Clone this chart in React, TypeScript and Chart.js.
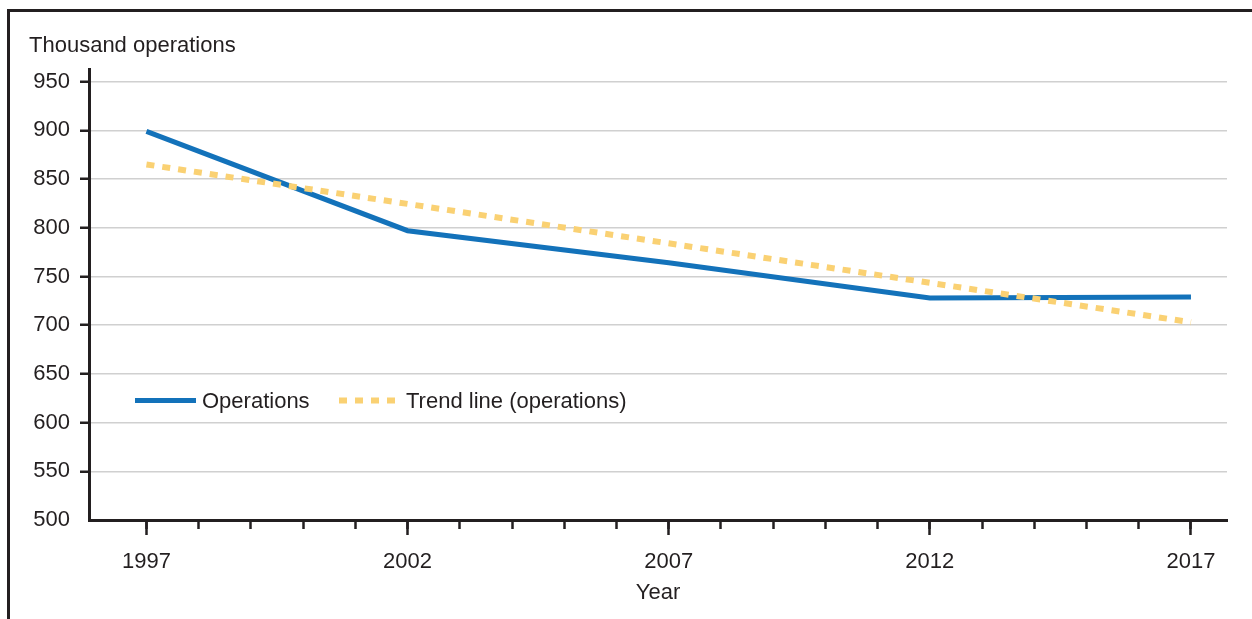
import React, { useEffect, useRef } from 'react';
import { Chart, registerables } from 'chart.js';

Chart.register(...registerables);

// ---- Data ----
const opYears = [1997, 2002, 2007, 2012, 2017];
const operations = [899, 797, 764, 728, 729];
const trendYears = [1997, 2017];
const trendValues = [865, 703];
const yTickValues = [500, 550, 600, 650, 700, 750, 800, 850, 900, 950];
const majorYears = [1997, 2002, 2007, 2012, 2017];
const minorYears = [1997, 1998, 1999, 2000, 2001, 2002, 2003, 2004, 2005, 2006, 2007, 2008, 2009, 2010, 2011, 2012, 2013, 2014, 2015, 2016, 2017];
const seriesLabels = ['Operations', 'Trend line (operations)'];
const yAxisTitle = 'Thousand operations';
const xAxisTitle = 'Year';

const TEXT = '#231f20';
const BLUE = '#1372ba';
const YELLOW = '#fad173';
const GRID = '#d0d0d0';
const FONT = '"Liberation Sans", Arial, sans-serif';
const FS = 22;

const CANVAS_W = 1242;
const CANVAS_H = 607;
const LEGEND_ITEM_OFFSETS = [46, 250];

const overlayPlugin = {
  id: 'overlay',
  afterDraw(chart: any) {
    const ctx = chart.ctx;
    const ca = chart.chartArea;
    ctx.save();
    ctx.font = `${FS}px ${FONT}`;
    ctx.fillStyle = TEXT;
    ctx.textAlign = 'left';
    ctx.textBaseline = 'alphabetic';
    ctx.fillText(yAxisTitle, 19, 40);

    // legend inside plot area
    const ly = ca.top + 331.5;
    chart.data.datasets.forEach((ds: any, i: number) => {
      const x = ca.left + LEGEND_ITEM_OFFSETS[i];
      ctx.beginPath();
      ctx.setLineDash(ds.borderDash || []);
      ctx.lineWidth = ds.borderWidth;
      ctx.strokeStyle = ds.borderColor;
      ctx.lineCap = 'butt';
      ctx.moveTo(x, ly);
      ctx.lineTo(x + 61, ly);
      ctx.stroke();
      ctx.setLineDash([]);
      ctx.textBaseline = 'middle';
      ctx.fillStyle = TEXT;
      ctx.fillText(ds.label, x + 67, ly + 1);
    });
    ctx.restore();
  },
};

export default function App() {
  const ref = useRef<HTMLCanvasElement>(null);

  useEffect(() => {
    if (!ref.current) return;
    Chart.defaults.font.family = FONT;
    Chart.defaults.font.size = FS;
    Chart.defaults.color = TEXT;

    const chart = new Chart(ref.current, {
      type: 'line',
      data: {
        datasets: [
          {
            label: seriesLabels[0],
            data: opYears.map((x, i) => ({ x, y: operations[i] })),
            borderColor: BLUE,
            backgroundColor: BLUE,
            borderWidth: 5,
            pointRadius: 0,
            tension: 0,
            order: 1,
          },
          {
            label: seriesLabels[1],
            data: trendYears.map((x, i) => ({ x, y: trendValues[i] })),
            borderColor: YELLOW,
            backgroundColor: YELLOW,
            borderWidth: 6,
            borderDash: [8, 8],
            pointRadius: 0,
            tension: 0,
            order: 0,
          },
        ],
      },
      options: {
        responsive: false,
        animation: false,
        layout: { padding: { left: 0, right: 25, top: 57, bottom: 0 } },
        plugins: {
          legend: { display: false },
          tooltip: { enabled: false },
          title: { display: false },
        },
        scales: {
          xMinor: {
            type: 'linear',
            position: 'bottom',
            weight: 0,
            min: 1995.9,
            max: 2017.69,
            afterBuildTicks: (s: any) => {
              s.ticks = minorYears.map((v) => ({ value: v }));
            },
            afterFit: (s: any) => {
              s.height = 0;
            },
            ticks: { display: false },
            grid: {
              drawOnChartArea: false,
              drawTicks: true,
              tickLength: 9,
              tickColor: TEXT,
              tickWidth: 2.5,
            },
            border: { display: false },
          },
          x: {
            type: 'linear',
            position: 'bottom',
            weight: 1,
            min: 1995.9,
            max: 2017.69,
            afterBuildTicks: (s: any) => {
              s.ticks = majorYears.map((v) => ({ value: v }));
            },
            afterFit: (s: any) => {
              s.height = 99;
            },
            ticks: {
              padding: 14,
              maxRotation: 0,
              autoSkip: false,
              color: TEXT,
              font: { size: FS, family: FONT },
              callback: (v: any) => String(v),
            },
            grid: {
              drawOnChartArea: false,
              drawTicks: true,
              tickLength: 15,
              tickColor: TEXT,
              tickWidth: 2.5,
            },
            border: { display: true, color: TEXT, width: 3 },
            title: {
              display: true,
              text: xAxisTitle,
              color: TEXT,
              font: { size: FS, family: FONT },
              padding: { top: 0, bottom: 13 },
            },
          },
          y: {
            type: 'linear',
            min: 500,
            max: 963,
            afterBuildTicks: (s: any) => {
              s.ticks = yTickValues.map((v) => ({ value: v }));
            },
            afterFit: (s: any) => {
              s.width = 79;
            },
            ticks: {
              padding: 10,
              color: TEXT,
              font: { size: FS, family: FONT },
              callback: (v: any) => String(v),
            },
            grid: {
              drawOnChartArea: true,
              drawTicks: true,
              tickLength: 9,
              lineWidth: 1.5,
              color: (c: any) => (c.tick && c.tick.value === 500 ? 'rgba(0,0,0,0)' : GRID),
              tickColor: (c: any) => (c.tick && c.tick.value === 500 ? 'rgba(0,0,0,0)' : TEXT),
              tickWidth: 2.5,
            },
            border: { display: true, color: TEXT, width: 3 },
          },
        },
      },
      plugins: [overlayPlugin],
    } as any);

    return () => chart.destroy();
  }, []);

  return (
    <div
      style={{
        position: 'fixed',
        left: 7,
        top: 9,
        right: 0,
        bottom: 0,
        borderLeft: `3px solid ${TEXT}`,
        borderTop: `3px solid ${TEXT}`,
        background: '#fff',
        overflow: 'hidden',
      }}
    >
      <canvas ref={ref} width={CANVAS_W} height={CANVAS_H} style={{ display: 'block' }} />
    </div>
  );
}
